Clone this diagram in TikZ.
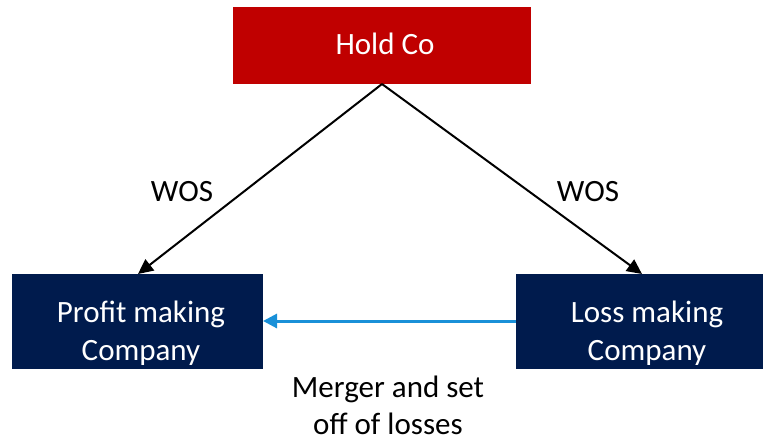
\documentclass[tikz,border=0pt]{standalone}
\usepackage{fontspec}
\setmainfont{Carlito}
\usetikzlibrary{arrows.meta}
\definecolor{holdred}{HTML}{C00000}
\definecolor{navy}{HTML}{001B4D}
\definecolor{mergeblue}{HTML}{1990D8}
\tikzset{
  box/.style={draw=none, inner sep=0pt, text=white, font=\fontsize{31}{38}\selectfont, align=center},
  lbl/.style={inner sep=0pt, text=black, font=\fontsize{31}{37}\selectfont, align=center},
  own/.style={draw=black, line width=2pt, -{Triangle[length=15pt,width=14pt]}},
  merge/.style={draw=mergeblue, line width=3pt, -{Triangle[length=14pt,width=14pt]}}
}
\begin{document}
\begin{tikzpicture}[x=1pt,y=-1pt]
\useasboundingbox (0,0) rectangle (763,440);
\fill[holdred] (233,7) rectangle (531,84);
\node[box] (hold) at (385,44) {Hold Co};
\fill[navy] (12,274) rectangle (263,369);
\fill[navy] (516,274) rectangle (763,369);
\coordinate (apex) at (382,84);
\coordinate (ptop) at (138,274);
\coordinate (ltop) at (642,274);
\coordinate (pright) at (263,321);
\coordinate (lleft) at (516,321);
\node[box] (profit) at (141,333) {Profit making\\Company};
\node[box] (loss) at (647,333) {Loss making\\Company};
\draw[own] (apex) -- (ptop);
\draw[own] (apex) -- (ltop);
\draw[merge] (lleft) -- (pright);
\node[lbl] (wos1) at (182,192) {WOS};
\node[lbl] (wos2) at (588,192) {WOS};
\node[lbl] (merger) at (388,405) {Merger and set\\off of losses};
\end{tikzpicture}
\end{document}
